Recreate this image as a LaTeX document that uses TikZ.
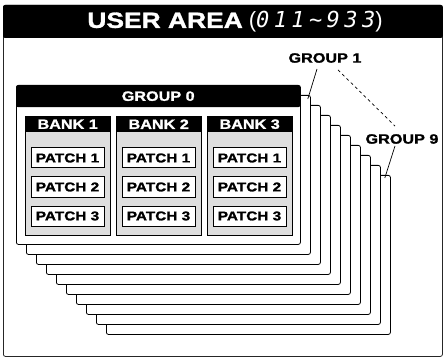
\documentclass[tikz,border=0pt]{standalone}
\usepackage{fontspec}
\setmainfont{Liberation Sans}
\newfontfamily\heavyfont{Liberation Sans}[BoldFeatures={FakeBold=1.4,FakeStretch=1.2}]
\newfontfamily\segfont{DejaVu Sans Mono}[LetterSpace=20]
\usetikzlibrary{positioning}
\tikzset{
  sheetbox/.style={draw, fill=white, rounded corners=2pt, line width=0.8pt, minimum width=284pt, minimum height=159pt, inner sep=0pt, anchor=north west},
  bankhead/.style={fill=black, text=white, font=\heavyfont\bfseries\fontsize{13.5}{14}\selectfont, minimum width=85pt, minimum height=16pt, inner sep=0pt, anchor=north west},
  bankbody/.style={draw, fill=black!13, line width=0.7pt, minimum width=85pt, minimum height=119pt, inner sep=0pt, anchor=north west},
  patchbox/.style={draw, fill=white, line width=1pt, minimum width=73pt, minimum height=20pt, inner sep=0pt, font=\heavyfont\bfseries\fontsize{12.8}{13}\selectfont},
  grouplabel/.style={font=\heavyfont\bfseries\fontsize{13.5}{14}\selectfont, inner sep=2pt},
  pointer/.style={line width=0.7pt}
}

\begin{document}
\begin{tikzpicture}[x=1pt, y=-1pt]
    \useasboundingbox (0,0) rectangle (444,358);
    % user area frame
    \node[draw=black!85, line width=0.8pt, rounded corners=2pt, minimum width=439pt, minimum height=351pt, inner sep=0pt, anchor=north west] (area) at (3,5) {};
    \fill[rounded corners=2pt] (area.north west) rectangle ([yshift=-33pt]area.north east);
    \node[text=white, inner sep=0pt] (title) at (235,22) {{\heavyfont\bfseries\fontsize{22}{22}\selectfont USER AREA}\hspace{6pt}{\fontsize{22}{22}\selectfont(}{\segfont\itshape\fontsize{22}{22}\selectfont 011\textasciitilde933}{\fontsize{22}{22}\selectfont)}};

    % groups, back to front
    \foreach \k in {9,...,1}
        \node[sheetbox] (sheet\k) at ({16+10*\k},{85+10*\k}) {};
    \node[sheetbox] (sheet0) at (16,85) {};
    \node[fill=black, text=white, rounded corners=2pt, minimum width=284pt, minimum height=22pt, inner sep=0pt, anchor=north west, font=\heavyfont\bfseries\fontsize{13.5}{14}\selectfont] (group0) at (sheet0.north west) {GROUP 0};

    % banks and patches
    \foreach \i in {1,2,3} {
        \node[bankbody] (bankbody\i) at ({25+91*(\i-1)},116) {};
        \node[bankhead] (bank\i) at ({25+91*(\i-1)},116) {BANK \i};
        \foreach \j in {1,2,3}
            \node[patchbox] (patch\i\j) at ({67.5+91*(\i-1)},{158+29*(\j-1)}) {PATCH \j};
    }

    % labels
    \node[grouplabel] (g1) at (325,58) {GROUP 1};
    \node[grouplabel] (g9) at (402,139) {GROUP 9};
    \draw[pointer] ([shift={(-8,4)}]g1.south) -- ([shift={(-3,4)}]sheet1.north east);
    \draw[pointer, dashed] ([shift={(13,5)}]g1.south) -- ([shift={(-7,-6)}]g9.north);
    \draw[pointer] ([shift={(-7,0)}]g9.south) -- ([shift={(-6,3)}]sheet9.north east);
\end{tikzpicture}
\end{document}
